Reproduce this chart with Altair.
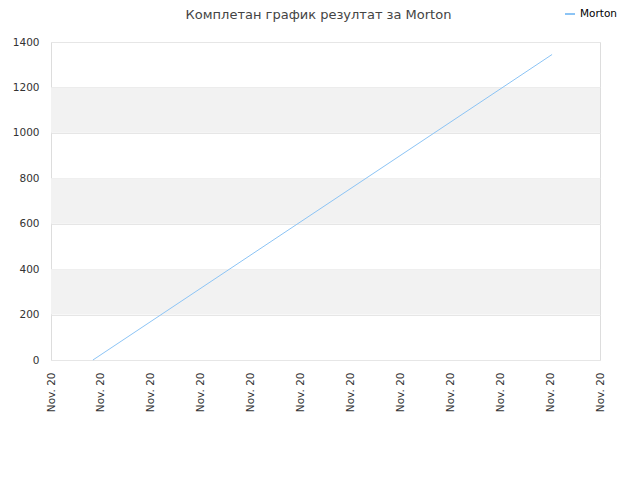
import altair as alt
import pandas as pd

title_text = "Комплетан график резултат за Morton"
series_name = "Morton"
x_points = [0.84, 10.04]
y_points = [0, 1345]
band_lo = [200, 600, 1000]
band_hi = [400, 800, 1200]
x_ticks = list(range(12))
y_ticks = [0, 200, 400, 600, 800, 1000, 1200, 1400]
tick_label = "Nov. 20"

line_df = pd.DataFrame({"x": x_points, "y": y_points, "s": [series_name] * len(x_points)})
band_df = pd.DataFrame({"lo": band_lo, "hi": band_hi})

xscale = alt.Scale(domain=[0, 11], nice=False, zero=False)
yscale = alt.Scale(domain=[0, 1400], nice=False)

bands = alt.Chart(band_df).mark_rect(color="#f2f2f2").encode(
    x=alt.value(0), x2=alt.value(549),
    y=alt.Y("lo:Q", scale=yscale), y2="hi:Q",
)

line = alt.Chart(line_df).mark_line(strokeWidth=1).encode(
    x=alt.X("x:Q", scale=xscale, title=None,
            axis=alt.Axis(values=x_ticks, labelExpr=f"'{tick_label}'", labelAngle=-90,
                          labelAlign="right", labelBaseline="middle", grid=False,
                          ticks=False, domain=False, labelPadding=12,
                          labelColor="#333333", labelFontSize=10.5, labelFont="DejaVu Sans")),
    y=alt.Y("y:Q", scale=yscale, title=None,
            axis=alt.Axis(values=y_ticks, format="d", grid=True, gridColor="#e6e6e6", ticks=False,
                          domain=False, labelPadding=12, labelColor="#333333",
                          labelFontSize=10.5, labelFont="DejaVu Sans")),
    color=alt.Color("s:N", scale=alt.Scale(range=["#8cc4f5"]),
                    legend=alt.Legend(title=None, orient="none", legendX=513, legendY=-34,
                                      symbolType="stroke", symbolSize=100, symbolStrokeWidth=2,
                                      labelFont="DejaVu Sans", labelFontSize=10.5,
                                      labelFontWeight="normal", labelLimit=100,
                                      labelColor="#000000")),
)

chart = alt.layer(bands, line).properties(
    width=549, height=318,
    title=alt.TitleParams(title_text, fontSize=13, font="DejaVu Sans", fontWeight="normal",
                          color="#444444", anchor="middle", offset=-14, dx=-7),
    autosize=alt.AutoSizeParams(type="none"),
    padding={"left": 43, "top": 34, "right": 32, "bottom": 112},
).configure_view(stroke="#dddddd", strokeWidth=1)

chart.save("out.html", embed_options={"renderer": "svg", "actions": False})
